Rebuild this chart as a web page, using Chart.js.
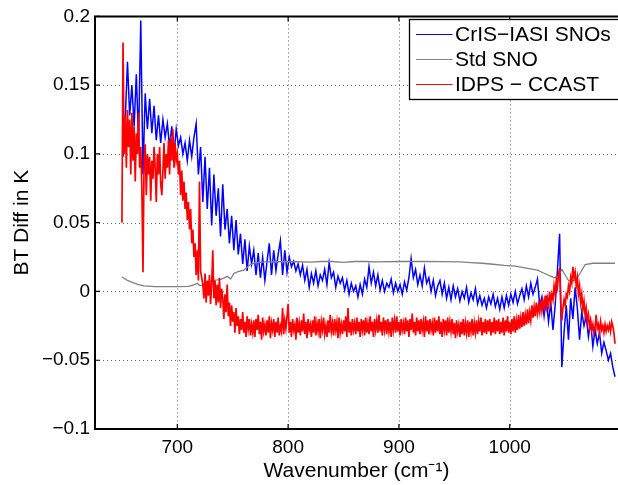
<!DOCTYPE html>
<html><head><meta charset="utf-8">
<script src="https://cdn.jsdelivr.net/npm/chart.js@4.4.1/dist/chart.umd.min.js"></script>
<style>html,body{margin:0;padding:0;background:#fff;overflow:hidden}#wrap{width:618px;height:485px;position:relative}</style>
</head><body><div id="wrap"><canvas id="c" width="618" height="485"></canvas></div>
<script>
const SERIES_NAMES = ['CrIS\u2212IASI SNOs', 'Std SNO', 'IDPS \u2212 CCAST'];
const X_TITLE = 'Wavenumber (cm\u207B\u00B9)';
const Y_TITLE = 'BT Diff in K';
const X_TICKS = [700, 800, 900, 1000];
const Y_TICKS = [-0.1, -0.05, 0, 0.05, 0.1, 0.15, 0.2];

// CrIS-IASI SNOs (blue), wavenumber grid 651, 653, ... 1095
const BLUE_START = 651, BLUE_STEP = 2;
const blueValues = [
 .098,.125,.167,.128,.15,.12,.158,.11,.197,.085,
 .144,.118,.14,.115,.135,.11,.128,.108,.125,.112,
 .122,.105,.12,.1,.118,.106,.112,.1,.108,.095,
 .11,.098,.112,.122,.085,.105,.065,.098,.06,.09,
 .048,.085,.055,.075,.04,.078,.045,.06,.035,.055,
 .03,.052,.027,.042,.02,.038,.015,.033,.02,.03,
 .012,.028,.01,.025,.008,.022,.035,.012,.03,.015,
 .027,.037,.012,.03,.014,.025,.018,.022,.015,.02,
 .012,.019,.008,.016,.003,.013,.006,.015,.004,.012,
 .008,.016,.005,.021,.01,.014,.003,.011,.006,.01,
 .001,.008,-.002,.006,0,.004,-.004,.005,-.002,.009,
 .003,.018,.006,.014,.004,.012,.001,.008,0,.006,
 .003,.009,-.001,.006,0,.005,-.002,.007,.001,.01,
 .024,.01,.016,.005,.012,.004,.017,.006,.01,0,
 .008,-.003,.004,.008,-.002,.006,-.005,.003,-.006,.004,
 -.004,.002,-.007,0,-.005,.003,-.008,-.001,-.006,.002,
 -.009,-.003,-.01,-.005,-.012,-.004,-.009,-.002,-.011,-.005,
 -.013,-.004,-.012,-.003,-.01,-.002,-.008,0,-.009,-.003,
 .002,-.006,.004,-.004,.006,-.002,.003,.009,-.01,-.004,
 -.018,-.006,-.022,-.008,-.028,-.01,.015,.042,-.055,-.03,
 -.01,-.035,-.005,-.02,.003,-.012,-.035,-.015,-.025,-.018,
 -.033,-.022,-.04,-.028,-.038,-.03,-.045,-.037,-.043,-.05,
 -.045,-.055,-.062
];

// IDPS - CCAST (red), wavenumber grid 650, 651, ... 1095
const RED_START = 650, RED_STEP = 1;
const redValues = [
 .05,.181,.1,.128,.09,.132,.105,.125,.085,.13,.095,.12,.08,.115,.1,.13,.09,.105,.075,.014,
 .095,.107,.07,.1,.085,.098,.066,.095,.082,.105,.09,.065,.1,.085,.105,.078,.07,.088,.108,.082,
 .1,.09,.11,.085,.112,.095,.118,.09,.108,.095,.1,.085,.095,.07,.088,.066,.08,.06,.072,.052,
 .065,.045,.06,.035,.045,.025,.035,.012,.03,.008,.08,.015,.01,.005,-.005,.013,-.008,.008,-.003,.012,
 -.009,.005,.03,-.005,.008,-.01,.005,-.008,.01,-.012,.002,-.005,-.02,-.002,-.015,.005,-.018,-.008,-.025,-.01,
 -.022,-.015,-.03,-.012,-.025,-.018,-.031,-.02,-.028,-.015,-.03,-.022,-.033,-.018,-.027,-.02,-.032,-.024,-.03,-.021,
 -.033,-.02,-.028,-.017,-.031,-.022,-.035,-.019,-.029,-.024,
 -.032,-.021,-.03,-.018,-.034,-.023,-.028,-.02,-.033,-.022,
 -.03,-.019,-.032,-.025,-.029,-.012,-.031,-.021,-.027,-.018,
 -.009,-.03,-.022,-.033,-.02,-.028,-.024,-.035,-.019,-.03,
 -.023,-.032,-.021,-.029,-.016,-.031,-.022,-.034,-.02,-.028,
 -.024,-.033,-.021,-.03,-.018,-.032,-.023,-.029,-.02,-.034,
 -.022,-.028,-.019,-.031,-.025,-.033,-.021,-.03,-.017,-.029,
 -.023,-.032,-.02,-.028,-.022,-.034,-.019,-.03,-.024,-.031,
 -.021,-.029,-.018,-.033,-.012,-.03,-.022,-.032,-.02,-.028,
 -.023,-.031,-.019,-.029,-.022,-.033,-.02,-.028,-.021,-.032,
 -.019,-.03,-.023,-.031,-.018,-.029,-.022,-.033,-.02,-.028,
 -.021,-.03,-.017,-.029,-.022,-.032,-.019,-.028,-.021,-.031,
 -.02,-.029,-.022,-.033,-.019,-.028,-.021,-.03,-.018,-.029,
 -.022,-.032,-.02,-.028,-.023,-.031,-.019,-.029,-.021,-.033,
 -.02,-.028,-.016,-.03,-.022,-.032,-.019,-.029,-.021,-.031,
 -.02,-.028,-.022,-.033,-.018,-.029,-.021,-.031,-.02,-.028,
 -.023,-.032,-.019,-.03,-.021,-.029,-.018,-.031,-.022,-.033,
 -.02,-.028,-.021,-.032,-.019,-.03,-.022,-.029,-.02,-.031,
 -.023,-.034,-.021,-.029,-.024,-.033,-.022,-.031,-.02,-.032,
 -.023,-.03,-.021,-.033,-.022,-.029,-.02,-.032,-.023,-.03,
 -.021,-.031,-.022,-.029,-.019,-.032,-.022,-.03,-.02,-.031,
 -.021,-.029,-.02,-.032,-.022,-.03,-.019,-.031,-.021,-.029,
 -.02,-.031,-.022,-.03,-.019,-.032,-.021,-.029,-.018,-.03,
 -.022,-.031,-.02,-.029,-.018,-.03,-.021,-.028,-.017,-.027,
 -.019,-.026,-.015,-.025,-.017,-.024,-.013,-.023,-.015,-.021,
 -.01,-.019,-.011,-.018,-.008,-.016,-.01,-.015,-.006,-.014,
 -.007,-.012,-.003,-.011,-.005,-.01,0,-.008,-.002,-.006,
 .004,-.002,.008,.003,.012,.017,-.008,-.021,-.012,-.006,
 -.01,-.002,-.004,.004,0,.01,.006,.018,.01,.014,
 .004,.01,-.002,.004,-.008,-.002,-.013,-.007,-.017,-.012,
 -.022,-.017,-.026,-.021,-.028,-.024,-.03,-.026,-.017,-.027,
 -.024,-.03,-.022,-.028,-.025,-.03,-.024,-.029,-.025,-.028,
 -.024,-.029,-.022,-.025,-.03,-.038
];

// Std SNO (gray)
const grayWavenumbers = [650,655,660,665,670,680,690,700,710,715,718,720,722,726,731,736,740,745,748,751,755,760,765,770,780,800,820,830,840,850,860,870,880,900,920,940,955,965,975,985,995,1005,1015,1025,1033,1040,1044,1047,1050,1053,1056,1060,1064,1068,1075,1085,1095];
const grayValues = [.0105,.008,.0065,.005,.004,.0035,.0035,.0035,.0037,.0048,.006,.0045,.0045,.006,.008,.0085,.009,.011,.009,.013,.0145,.0155,.019,.021,.0215,.0218,.0213,.0218,.0218,.0212,.0218,.0218,.0215,.0218,.0218,.0217,.0215,.021,.0205,.0198,.019,.0185,.017,.0155,.0125,.01,.011,.016,.012,.008,.0075,.0085,.014,.0195,.0205,.0205,.0205];

const COLORS = ['#0000ff', '#808080', '#ff0000'];
const FONT = "'Liberation Sans', Arial, Helvetica, sans-serif";

const blueData = blueValues.map((v, i) => ({x: BLUE_START + i * BLUE_STEP, y: v}));
const redData = redValues.map((v, i) => ({x: RED_START + i * RED_STEP, y: v}));
const grayData = grayValues.map((v, i) => ({x: grayWavenumbers[i], y: v}));

const fmt = v => Number(v.toFixed(2)).toString().replace('-', '\u2212');

const gridPlugin = {
  id: 'dottedGrid',
  beforeDatasetsDraw(chart) {
    const {ctx, chartArea: a, scales: {x, y}} = chart;
    ctx.save();
    ctx.strokeStyle = 'rgba(0,0,0,0.6)';
    ctx.lineWidth = 1;
    ctx.setLineDash([1, 3]);
    ctx.beginPath();
    x.ticks.forEach(t => {
      const px = Math.round(x.getPixelForValue(t.value)) + 0.5;
      ctx.moveTo(px, a.top); ctx.lineTo(px, a.bottom);
    });
    y.ticks.forEach(t => {
      const py = Math.round(y.getPixelForValue(t.value)) + 0.5;
      ctx.moveTo(a.left, py); ctx.lineTo(a.right, py);
    });
    ctx.stroke();
    ctx.restore();
  }
};

const framePlugin = {
  id: 'frame',
  afterDraw(chart) {
    const {ctx, chartArea: a, scales: {x, y}} = chart;
    ctx.save();
    ctx.strokeStyle = '#000';
    ctx.lineWidth = 2;
    ctx.beginPath();
    ctx.moveTo(a.right + 2, a.top); ctx.lineTo(a.left, a.top);
    ctx.lineTo(a.left, a.bottom); ctx.lineTo(a.right + 2, a.bottom);
    ctx.stroke();
    ctx.lineWidth = 1.2;
    ctx.beginPath();
    x.ticks.forEach(t => {
      const px = x.getPixelForValue(t.value);
      ctx.moveTo(px, a.bottom); ctx.lineTo(px, a.bottom - 5);
      ctx.moveTo(px, a.top); ctx.lineTo(px, a.top + 5);
    });
    y.ticks.forEach(t => {
      const py = y.getPixelForValue(t.value);
      ctx.moveTo(a.left, py); ctx.lineTo(a.left + 5, py);
    });
    ctx.stroke();

    // legend box
    const bx = 409.5, by = 19.5, bw = 215, bh = 80;
    ctx.fillStyle = '#fff';
    ctx.fillRect(bx, by, bw, bh);
    ctx.strokeStyle = '#000';
    ctx.lineWidth = 1.3;
    ctx.strokeRect(bx, by, bw, bh);
    const rows = [34.5, 59.5, 84.5];
    ctx.font = '21px ' + FONT;
    ctx.textBaseline = 'middle';
    ctx.textAlign = 'left';
    chart.data.datasets.forEach((ds, i) => {
      ctx.strokeStyle = ds.borderColor;
      ctx.lineWidth = 1.2;
      ctx.beginPath();
      ctx.moveTo(416, rows[i]); ctx.lineTo(452.5, rows[i]);
      ctx.stroke();
      ctx.fillStyle = '#000';
      ctx.fillText(ds.label, 455, rows[i] + 1);
    });
    ctx.restore();
  }
};

new Chart(document.getElementById('c'), {
  type: 'line',
  data: {
    datasets: [
      {label: SERIES_NAMES[0], data: blueData, borderColor: COLORS[0], borderWidth: 1.5, pointRadius: 0, order: 3},
      {label: SERIES_NAMES[1], data: grayData, borderColor: COLORS[1], borderWidth: 1.3, pointRadius: 0, order: 2},
      {label: SERIES_NAMES[2], data: redData, borderColor: COLORS[2], borderWidth: 1.7, pointRadius: 0, order: 1}
    ]
  },
  options: {
    responsive: false,
    animation: false,
    events: [],
    layout: {padding: {top: 14, right: 0, left: 0, bottom: 0}},
    plugins: {legend: {display: false}, tooltip: {enabled: false}},
    scales: {
      x: {
        type: 'linear', min: 625.7, max: 1097.7,
        afterFit: s => { s.height = 56; },
        afterBuildTicks: s => { s.ticks = X_TICKS.map(v => ({value: v})); },
        grid: {display: false, drawTicks: false},
        border: {display: false},
        ticks: {color: '#000', font: {family: FONT, size: 19}, padding: 7, maxRotation: 0, callback: v => String(v)},
        title: {display: true, text: X_TITLE, color: '#000', font: {family: FONT, size: 21}, padding: {top: 0, bottom: 1}}
      },
      y: {
        type: 'linear', min: -0.1, max: 0.2,
        afterFit: s => { s.width = 95; },
        afterBuildTicks: s => { s.ticks = Y_TICKS.map(v => ({value: v})); },
        grid: {display: false, drawTicks: false},
        border: {display: false},
        ticks: {color: '#000', font: {family: FONT, size: 19}, padding: 5, callback: v => fmt(v)},
        title: {display: true, text: Y_TITLE, color: '#000', font: {family: FONT, size: 21}, padding: {top: 10, bottom: 0}}
      }
    }
  },
  plugins: [gridPlugin, framePlugin]
});
</script>
</body></html>
